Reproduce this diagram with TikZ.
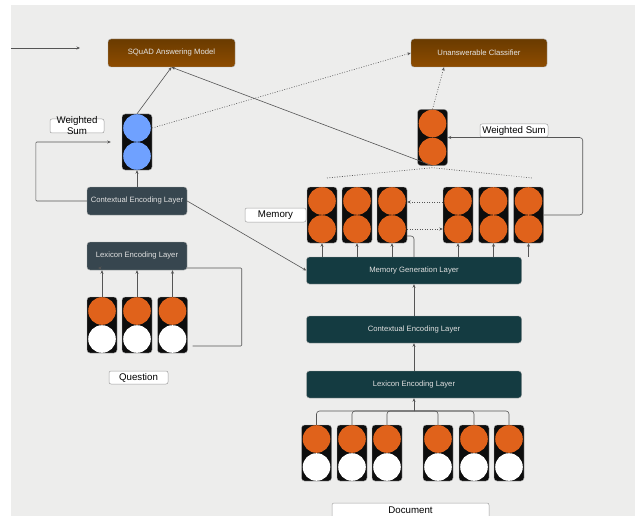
\documentclass[tikz,border=0pt]{standalone}
\usepackage{fontspec}
\setmainfont{Liberation Sans}
\usetikzlibrary{arrows.meta}
\definecolor{bgc}{HTML}{EDEDEC}
\definecolor{orng}{HTML}{E0621B}
\definecolor{bluec}{HTML}{6FA1FF}
\definecolor{slate}{HTML}{37464F}
\definecolor{teal}{HTML}{143B41}
\definecolor{brtop}{HTML}{6A3B00}
\definecolor{brbot}{HTML}{8E4C00}
\definecolor{linec}{HTML}{555555}
\newcommand\cellcol[5]{%
  \node[colbox] (#1) at (#2,#3) {};
  \fill[#4] ([yshift=14pt]#1.center) circle (13.8pt);
  \fill[#5] ([yshift=-14pt]#1.center) circle (13.8pt);
}
\begin{document}
\begin{tikzpicture}[x=1pt,y=-1pt,
  layerL/.style={rectangle, rounded corners=3pt, fill=slate, draw=gray!70, line width=0.4pt,
    text=white!88!black, font=\fontsize{7.7}{9}\selectfont, minimum width=100pt,
    minimum height=28pt, inner sep=0pt},
  layerR/.style={layerL, fill=teal, minimum width=215pt, minimum height=27pt},
  outbox/.style={rectangle, rounded corners=3pt, top color=brtop, bottom color=brbot,
    draw=gray!70, line width=0.4pt, text=white!90!black, font=\fontsize{7.7}{9}\selectfont,
    inner sep=0pt},
  lbl/.style={rectangle, fill=white, draw=gray!75, line width=0.5pt, rounded corners=2pt,
    inner sep=0pt, font=\fontsize{9.7}{11}\selectfont},
  lbltext/.style={inner sep=0pt, align=center, font=\fontsize{9.7}{11}\selectfont},
  colbox/.style={rectangle, fill=black!95, draw=gray!60, line width=0.4pt, rounded corners=3pt,
    minimum width=30pt, minimum height=56pt, inner sep=0pt},
  conn/.style={draw=linec, line width=0.6pt},
  arr/.style={conn, -{Stealth[length=3.5pt,width=3pt]}},
  dotline/.style={conn, dash pattern=on 0.9pt off 1.6pt},
  dotarr/.style={dotline, -{Stealth[length=3.5pt,width=3pt]}}
]
\useasboundingbox (0,0) rectangle (637,516);
\fill[bgc] (11,5) rectangle (635,516);

% output boxes
\node[outbox, minimum width=127pt, minimum height=28pt] (squad) at (171.5,53) {SQuAD Answering Model};
\node[outbox, minimum width=136pt, minimum height=28pt] (unans) at (479,53) {Unanswerable Classifier};

% cell columns
\cellcol{blue}{137}{142}{bluec}{bluec}
\cellcol{topR}{432.5}{137.5}{orng}{orng}
\foreach \i/\x in {1/322,2/357,3/392,4/458,5/493.5,6/528.5}{\cellcol{m\i}{\x}{215}{orng}{orng}}
\foreach \i/\x in {1/102,2/137,3/172.5}{\cellcol{q\i}{\x}{325}{orng}{white}}
\foreach \i/\x in {1/316.5,2/352,3/387,4/438,5/474,6/509}{\cellcol{d\i}{\x}{453}{orng}{white}}

% left layers
\node[layerL] (ctxL) at (137,201) {Contextual Encoding Layer};
\coordinate (lexIn) at (98,268);
\coordinate (lexInB) at (100,268);
\draw[arr, rounded corners=1pt] ([xshift=5pt,yshift=-21pt]q3.east) -- ++(49,0) |- (lexIn);
\node[layerL] (lexL) at (137,256) {Lexicon Encoding Layer};
\draw[arr] (lexInB) -- (lexIn);

% right layers
\node[layerR] (memgen) at (414,270.5) {Memory Generation Layer};
\node[layerR] (ctxR) at (414,329.5) {Contextual Encoding Layer};
\node[layerR] (lexR) at (414,384.5) {Lexicon Encoding Layer};

% labels
\node[lbl, minimum width=54pt, minimum height=14pt] (wsL) at (77,126) {};
\node[lbltext] (wsLt) at (77,126) {Weighted\\Sum};
\node[lbl, minimum width=68pt, minimum height=13pt] (wsR) at (514,130.5) {Weighted Sum};
\node[lbl, minimum width=61pt, minimum height=14pt] (memlbl) at (275.5,215) {Memory};
\node[lbl, minimum width=59pt, minimum height=13pt] (qlbl) at (138.5,377.5) {Question};
\node[lbl, minimum width=157pt, minimum height=18pt] (dlbl) at (410.5,512) {};
\node[lbltext] (dlblt) at (410.5,510) {Document};

% connectors
\coordinate (inA) at (11,48);
\coordinate (inB) at (80,48);
\draw[arr] (inA) -- (inB);
\draw[arr] (blue.north) -- (squad.south);
\draw[arr] (topR.south) -- (squad.south);
\draw[arr] (ctxL.north) -- (blue.south);
\draw[arr, rounded corners=1pt, shorten >=11pt] (ctxL.west) -- ++(-51,0) |- (blue.west);
\draw[dotarr] ([yshift=14pt]blue.east) -- (unans.west);
\draw[dotarr] (topR.north) -- ([xshift=-35pt]unans.south);
\draw[arr, rounded corners=3pt] (m6.east) -- ++(39,0) |- (topR.east);
\coordinate (fanL) at (327,178);
\coordinate (fanR) at (532,178);
\draw[dotline] (fanL) -- ([yshift=-2pt]topR.south) -- (fanR);
\draw[dotarr] ([yshift=13pt]m4.west) -- ([yshift=13pt]m3.east);
\draw[dotarr] ([yshift=-14pt]m3.east) -- ([yshift=-14pt]m4.west);
\foreach \i in {1,...,6}{\draw[arr] (memgen.north -| m\i.south) -- (m\i.south);}
\draw[conn, rounded corners=3pt] ([yshift=-21pt]m3.east) -| (memgen.north);
\draw[arr] (ctxL.east) -- (memgen.west);
\draw[arr] (ctxR.north) -- (memgen.south);
\draw[arr] (lexR.north) -- (ctxR.south);
\foreach \i in {1,2,3}{\draw[arr] (q\i.north) -- (q\i.north |- lexL.south);}
\coordinate (join) at (414,411);
\foreach \i in {1,...,6}{\draw[conn, rounded corners=3pt] (d\i.north) |- (join);}
\draw[arr] (join) -- (lexR.south);
\end{tikzpicture}
\end{document}
